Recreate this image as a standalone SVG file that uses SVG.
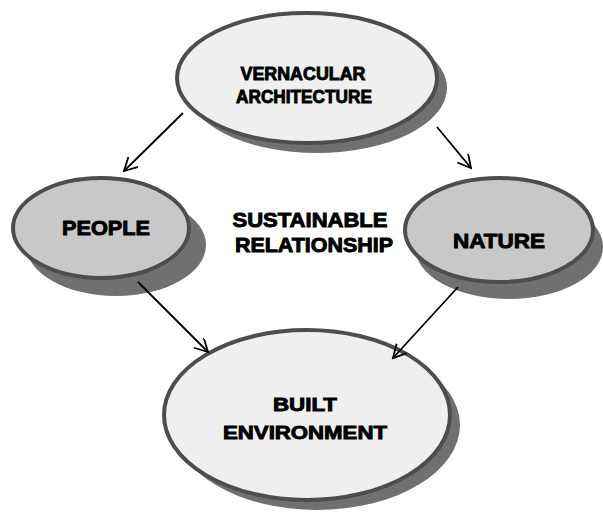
<svg xmlns="http://www.w3.org/2000/svg" width="603" height="512" viewBox="0 0 603 512">
  <defs>
    <style>
      .shadow { fill: #707070; }
      .light { fill: #efefef; stroke: #4d4d4d; stroke-width: 4; }
      .mid { fill: #c8c8c8; stroke: #4d4d4d; stroke-width: 4; }
      .label { font-family: "Liberation Sans", Arial, sans-serif; font-weight: bold; fill: #000; stroke: #000; stroke-width: 0.9; text-anchor: middle; }
      .edge { stroke: #000; stroke-width: 1.8; fill: none; }
    </style>
    <marker id="arrow" markerUnits="userSpaceOnUse" markerWidth="24" markerHeight="24" refX="14" refY="7" orient="auto">
      <path d="M1,0 L14,7 L1,14" fill="none" stroke="#000" stroke-width="1.8"/>
    </marker>
  </defs>
  <rect width="603" height="512" fill="#ffffff"/>

  <g id="vernacular">
    <ellipse class="shadow" cx="317" cy="88" rx="130" ry="65"/>
    <ellipse class="light" cx="307" cy="78" rx="130" ry="65"/>
    <text class="label" x="303" y="80" font-size="19" textLength="125" lengthAdjust="spacingAndGlyphs">VERNACULAR</text>
    <text class="label" x="304" y="103" font-size="19" textLength="136" lengthAdjust="spacingAndGlyphs">ARCHITECTURE</text>
  </g>

  <g id="people">
    <ellipse class="shadow" cx="116" cy="245" rx="90" ry="51"/>
    <ellipse class="mid" cx="101" cy="228" rx="88" ry="50"/>
    <text class="label" x="106" y="235" font-size="21" textLength="88" lengthAdjust="spacingAndGlyphs">PEOPLE</text>
  </g>

  <g id="nature">
    <ellipse class="shadow" cx="509" cy="247" rx="94" ry="52"/>
    <ellipse class="mid" cx="499" cy="230" rx="94" ry="52"/>
    <text class="label" x="499" y="248" font-size="21" textLength="92" lengthAdjust="spacingAndGlyphs">NATURE</text>
  </g>

  <g id="relationship">
    <text class="label" x="310" y="227" font-size="20" textLength="155" lengthAdjust="spacingAndGlyphs">SUSTAINABLE</text>
    <text class="label" x="314" y="252" font-size="20" textLength="158" lengthAdjust="spacingAndGlyphs">RELATIONSHIP</text>
  </g>

  <g id="built">
    <ellipse class="shadow" cx="317" cy="425" rx="143" ry="85"/>
    <ellipse class="light" cx="307" cy="415" rx="143" ry="85"/>
    <text class="label" x="305" y="411" font-size="19" textLength="64" lengthAdjust="spacingAndGlyphs">BUILT</text>
    <text class="label" x="305" y="439" font-size="19" textLength="164" lengthAdjust="spacingAndGlyphs">ENVIRONMENT</text>
  </g>

  <g id="connectors">
    <line class="edge" x1="183" y1="113" x2="124" y2="171" marker-end="url(#arrow)"/>
    <line class="edge" x1="437" y1="127" x2="471" y2="168" marker-end="url(#arrow)"/>
    <line class="edge" x1="138" y1="282" x2="208" y2="352" marker-end="url(#arrow)"/>
    <line class="edge" x1="458" y1="287" x2="393" y2="358" marker-end="url(#arrow)"/>
  </g>
</svg>
